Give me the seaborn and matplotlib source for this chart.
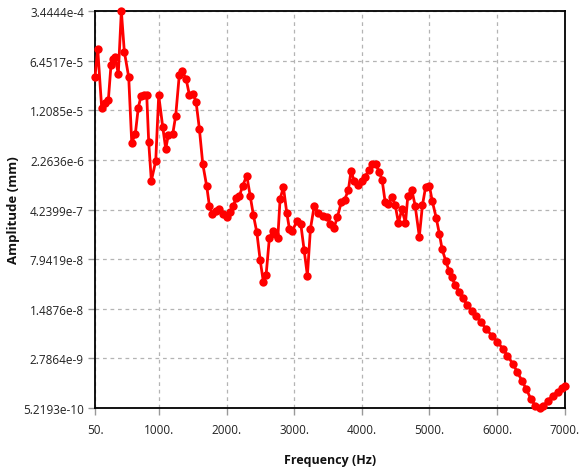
import matplotlib
matplotlib.use("Agg")
import matplotlib.pyplot as plt
import seaborn as sns
import pandas as pd

freq = [50, 90, 149, 198, 247, 287, 321, 346, 395, 440,
        484, 549, 594, 647, 691, 731, 780, 816, 845, 884,
        949, 993, 1053, 1097, 1136, 1201, 1245, 1298, 1343, 1398,
        1447, 1501, 1546, 1595, 1645, 1704, 1743, 1787, 1842, 1891,
        1941, 2001, 2049, 2098, 2138, 2187, 2237, 2297, 2346, 2394,
        2445, 2494, 2543, 2583, 2631, 2682, 2716, 2756, 2790, 2839,
        2889, 2928, 2968, 3046, 3096, 3145, 3194, 3239, 3296, 3350,
        3419, 3481, 3535, 3585, 3638, 3696, 3745, 3801, 3841, 3886,
        3942, 4000, 4049, 4101, 4152, 4204, 4256, 4300, 4345, 4394,
        4444, 4493, 4542, 4592, 4646, 4681, 4740, 4789, 4851, 4897,
        4945, 5001, 5041, 5100, 5149, 5189, 5241, 5293, 5330, 5382,
        5445, 5504, 5555, 5629, 5693, 5762, 5841, 5925, 6008, 6088,
        6156, 6236, 6304, 6370, 6433, 6503, 6567, 6630, 6689, 6749,
        6829, 6897, 6962, 7000]

amplitude = [3.70e-5, 9.62e-5, 1.30e-5, 1.55e-5, 1.68e-5, 5.60e-5, 6.85e-5, 7.26e-5, 4.13e-5, 3.45e-4,
             8.77e-5, 3.70e-5, 4.02e-6, 5.45e-6, 1.32e-5, 1.95e-5, 1.99e-5, 1.99e-5, 4.12e-6, 1.12e-6,
             2.17e-6, 1.99e-5, 6.84e-6, 3.28e-6, 5.27e-6, 5.45e-6, 1.01e-5, 4.00e-5, 4.47e-5, 3.49e-5,
             2.03e-5, 2.10e-5, 1.61e-5, 6.46e-6, 1.98e-6, 9.25e-7, 4.84e-7, 3.66e-7, 4.09e-7, 4.34e-7,
             3.66e-7, 3.27e-7, 3.95e-7, 4.84e-7, 6.21e-7, 6.65e-7, 9.51e-7, 1.33e-6, 6.79e-7, 3.54e-7,
             1.97e-7, 7.82e-8, 3.64e-8, 4.66e-8, 1.61e-7, 2.08e-7, 1.86e-7, 1.61e-7, 6.07e-7, 9.02e-7,
             3.78e-7, 2.20e-7, 2.06e-7, 2.92e-7, 2.61e-7, 1.08e-7, 4.55e-8, 2.20e-7, 4.84e-7, 3.78e-7,
             3.42e-7, 3.30e-7, 2.61e-7, 2.25e-7, 3.27e-7, 5.43e-7, 5.86e-7, 8.22e-7, 1.58e-6, 1.10e-6,
             9.64e-7, 1.12e-6, 1.28e-6, 1.59e-6, 1.98e-6, 1.95e-6, 1.51e-6, 1.15e-6, 5.48e-7, 5.04e-7,
             6.43e-7, 4.95e-7, 2.70e-7, 4.26e-7, 2.70e-7, 6.71e-7, 8.17e-7, 4.84e-7, 1.70e-7, 4.90e-7,
             9.16e-7, 9.30e-7, 5.73e-7, 3.23e-7, 1.84e-7, 1.10e-7, 7.55e-8, 5.28e-8, 4.28e-8, 3.33e-8,
             2.60e-8, 2.12e-8, 1.69e-8, 1.40e-8, 1.18e-8, 9.44e-9, 7.52e-9, 6.00e-9, 4.90e-9, 3.83e-9,
             3.05e-9, 2.31e-9, 1.74e-9, 1.31e-9, 9.91e-10, 7.08e-10, 5.64e-10, 5.16e-10, 5.53e-10, 6.68e-10,
             7.90e-10, 9.06e-10, 1.02e-9, 1.09e-9]

x_ticks = [50, 1000, 2000, 3000, 4000, 5000, 6000, 7000]
x_tick_labels = ["50.", "1000.", "2000.", "3000.", "4000.", "5000.", "6000.", "7000."]
y_ticks = [5.2193e-10, 2.7864e-9, 1.4876e-8, 7.9419e-8, 4.2399e-7,
           2.2636e-6, 1.2085e-5, 6.4517e-5, 3.4444e-4]
y_tick_labels = ["5.2193e-10", "2.7864e-9", "1.4876e-8", "7.9419e-8", "4.2399e-7",
                 "2.2636e-6", "1.2085e-5", "6.4517e-5", "3.4444e-4"]

df = pd.DataFrame({"Frequency": freq, "Amplitude": amplitude})

sns.set_style("white")
plt.rcParams["font.family"] = ["Open Sans", "DejaVu Sans"]

fig = plt.figure(figsize=(5.88, 4.77), dpi=100)
ax = fig.add_axes([95 / 588, 1 - 409 / 477, (564.5 - 95) / 588, (409 - 12) / 477])

ax.set_yscale("log")
sns.lineplot(data=df, x="Frequency", y="Amplitude", ax=ax, color="#ff0000",
             linewidth=2.0, marker="o", markersize=6.0, markeredgewidth=0,
             estimator=None, sort=False, clip_on=False, zorder=5)

ax.set_xlim(50, 7000)
ax.set_ylim(y_ticks[0], y_ticks[-1])
ax.set_xticks(x_ticks)
ax.set_xticklabels(x_tick_labels)
ax.set_yticks(y_ticks)
ax.set_yticklabels(y_tick_labels)
ax.minorticks_off()

ax.grid(True, which="major", color="#b4b4b4", linestyle=(0, (3, 3)), linewidth=0.9)
ax.set_axisbelow(True)

for s in ax.spines.values():
    s.set_color("black")
    s.set_linewidth(1.3)
    s.set_visible(True)

ax.tick_params(axis="both", which="major", direction="out", length=5, width=1,
               color="#999999", labelsize=8.5, labelcolor="#222222", pad=3)
ax.tick_params(axis="x", pad=6)
ax.tick_params(axis="y", left=True)
ax.tick_params(axis="x", bottom=True)

ax.set_xlabel("Frequency (Hz)", fontsize=9, fontweight="bold", color="#111111", labelpad=12)
ax.set_ylabel("Amplitude (mm)", fontsize=9.5, fontweight="bold", color="#111111", labelpad=2)

fig.savefig("out.png", dpi=100)
